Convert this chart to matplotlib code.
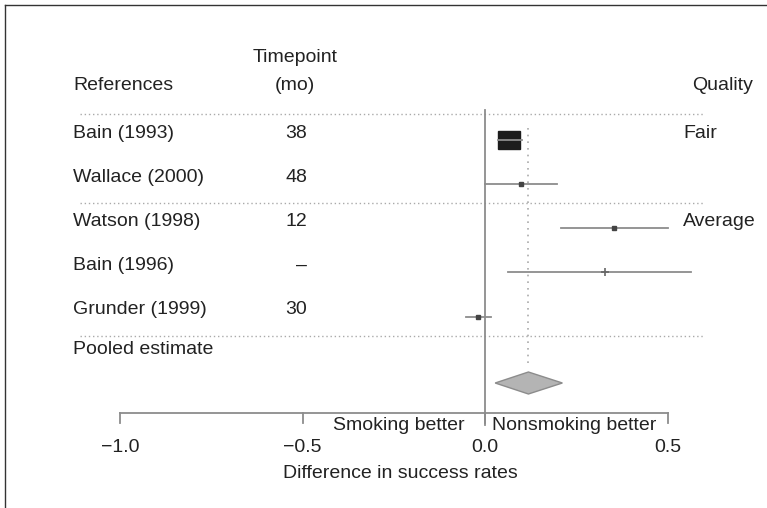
import matplotlib.pyplot as plt
from matplotlib.patches import Polygon, Rectangle
from matplotlib.lines import Line2D

plt.rcParams['font.family'] = ['Liberation Sans', 'DejaVu Sans']

# data
studies = ["Bain (1993)", "Wallace (2000)", "Watson (1998)", "Bain (1996)", "Grunder (1999)"]
timepoint = ["38", "48", "12", "\u2013", "30"]
est = [0.066, 0.099, 0.353, 0.329, -0.019]
lower = [0.035, 0.0, 0.208, 0.063, -0.052]
upper = [0.100, 0.197, 0.499, 0.564, 0.016]
pooled = [0.027, 0.118, 0.211]   # lower, estimate, upper
quality = {"Fair": 0, "Average": 2}
xticks = [-1.0, -0.5, 0.0, 0.5]

# layout: x in data units (365.3 px per unit, -1.0 at px 120), y in pixels
x0 = -1 - 120 / 365.3
def px(p):
    return x0 + p / 365.3

row_y = [140, 184, 228, 272, 317]
pooled_y = 383
text_dy = -7
tc = "#222222"
lc = "#8c8c8c"
fs = 14

fig = plt.figure(figsize=(7.67, 5.08), dpi=100)
ax = fig.add_axes([0, 0, 1, 1])
ax.set_xlim(x0, px(767))
ax.set_ylim(508, 0)
ax.axis("off")

# frame (left and top edges only)
ax.add_line(Line2D([0.0065, 0.0065], [0, 0.99], transform=ax.transAxes, color="#333333", lw=1))
ax.add_line(Line2D([0.0065, 1], [0.99, 0.99], transform=ax.transAxes, color="#333333", lw=1))

# headers
ax.text(px(73), 85, "References", fontsize=fs, color=tc, va="center", ha="left")
ax.text(px(295), 57, "Timepoint", fontsize=fs, color=tc, va="center", ha="center")
ax.text(px(295), 85, "(mo)", fontsize=fs, color=tc, va="center", ha="center")
ax.text(px(753), 85, "Quality", fontsize=fs, color=tc, va="center", ha="right")

for i, name in enumerate(studies):
    ax.text(px(73), row_y[i] + text_dy, name, fontsize=fs, color=tc, va="center", ha="left")
    ax.text(px(307), row_y[i] + text_dy, timepoint[i], fontsize=fs, color=tc, va="center", ha="right")
for q, i in quality.items():
    ax.text(px(683), row_y[i] + text_dy, q, fontsize=fs, color=tc, va="center", ha="left")
ax.text(px(73), 350, "Pooled estimate", fontsize=fs, color=tc, va="center", ha="left")

# dotted separators
for y in [114, 203, 336]:
    ax.plot([px(80), px(705)], [y, y], color="#aaaaaa", lw=1, ls=(0, (1, 2)))

# zero line and pooled reference line
ax.plot([0, 0], [110, 425], color=lc, lw=1.3)
ax.plot([pooled[1], pooled[1]], [128, 368], color="#aaaaaa", lw=1.2, ls=(0, (1, 3)))

# study CIs
for i in range(len(studies)):
    ax.plot([lower[i], upper[i]], [row_y[i], row_y[i]], color=lc, lw=1.3)
    if i == 0:
        w = 22 / 365.3
        ax.add_patch(Rectangle((est[i] - w / 2, row_y[i] - 9), w, 18, color="#1c1c1c"))
    elif i == 3:
        ax.plot(est[i], row_y[i], marker="+", color="#666666", ms=6, mew=1.2)
    else:
        ax.plot(est[i], row_y[i], marker="s", color="#444444", ms=2.2)

# pooled diamond
ax.add_patch(Polygon([[pooled[0], pooled_y], [pooled[1], pooled_y - 11],
                      [pooled[2], pooled_y], [pooled[1], pooled_y + 11]],
                     closed=True, facecolor="#b4b4b4", edgecolor="#8c8c8c", lw=1))

# x axis
axis_y = 413
ax.plot([xticks[0], xticks[-1]], [axis_y, axis_y], color=lc, lw=1.3)
for t in xticks:
    ax.plot([t, t], [axis_y, axis_y + 10], color=lc, lw=1.3)
    ax.text(t, 448, "%.1f" % t if t >= 0 else "\u2212%.1f" % abs(t), fontsize=fs,
            color=tc, va="center", ha="center")
ax.text(px(465), 426, "Smoking better", fontsize=fs, color=tc, va="center", ha="right")
ax.text(px(492), 426, "Nonsmoking better", fontsize=fs, color=tc, va="center", ha="left")
ax.text(px(400), 473, "Difference in success rates", fontsize=fs, color=tc, va="center", ha="center")

fig.savefig("out.png", dpi=100)
